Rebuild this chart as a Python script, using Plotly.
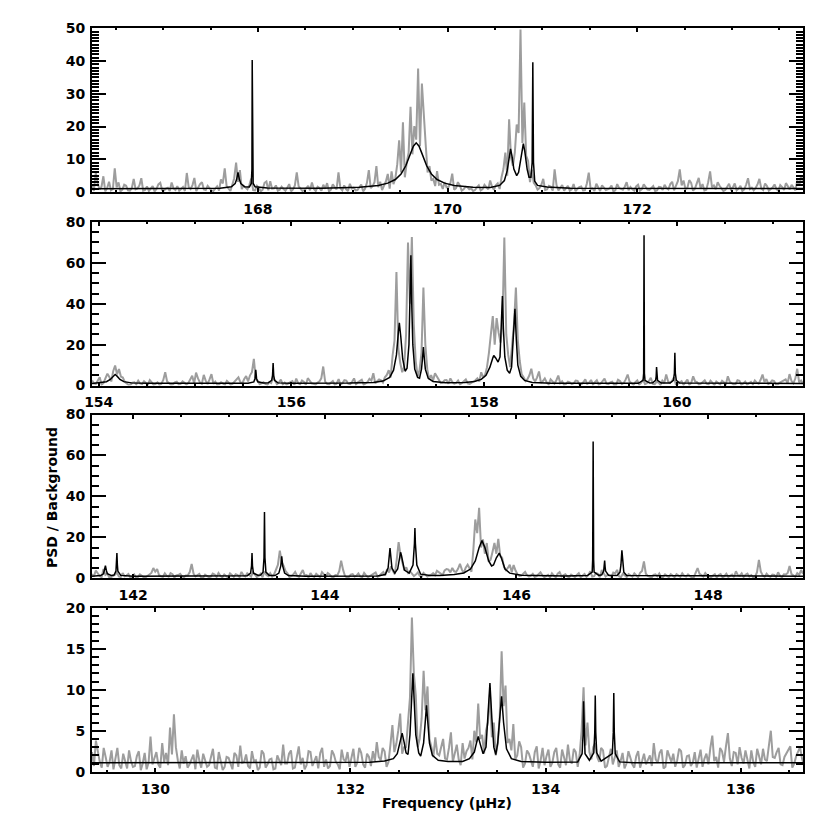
import plotly.graph_objects as go

BIN = 0.04  # spacing of each list below (µHz); *_mid lists sit half a bin to the right

# ---------------- panel 1 (top) ----------------
p1_xrange = [166.25, 173.75]
p1_yrange = [0, 50]
p1_start = 166.25
p1_psd = [
    2.1, 6.0, 0.8, 4.8, 1.2, 0.5, 7.2, 2.9, 0.7, 1.9, 0.4, 4.0, 1.1, 4.2, 0.6, 0.3, 1.8, 0.9, 2.8, 0.5, 1.3, 2.9, 0.6, 0.4, 1.5,  # 166.25
    5.8, 0.9, 4.3, 1.4, 3.0, 0.6, 1.2, 0.3, 1.7, 3.8, 7.2, 1.0, 2.2, 9.0, 6.7, 1.9, 0.8, 4.1, 0.5, 1.3, 0.7, 3.2, 3.3, 1.1, 0.4,  # 167.25
    1.6, 0.4, 2.4, 0.8, 6.0, 1.1, 0.6, 1.9, 2.9, 0.3, 1.2, 2.2, 2.7, 0.7, 1.5, 6.0, 0.5, 0.9, 2.5, 1.3, 0.6, 2.3, 1.0, 6.7, 1.8,  # 168.25
    7.9, 3.1, 1.8, 5.5, 6.3, 4.2, 15.8, 21.3, 9.0, 26.0, 20.1, 37.7, 33.1, 14.5, 7.9, 4.0, 6.4, 2.5, 3.0, 1.5, 5.6, 1.2, 2.0, 0.8, 1.5,  # 169.25
    1.1, 0.6, 2.0, 0.9, 1.4, 3.5, 0.7, 2.6, 4.5, 12.0, 22.2, 8.0, 20.6, 49.6, 27.3, 9.5, 6.8, 2.0, 1.2, 4.0, 0.8, 1.6, 6.9, 0.5, 2.1,  # 170.25
    1.3, 0.4, 2.4, 0.9, 1.7, 0.6, 5.9, 1.1, 2.5, 0.3, 1.4, 0.8, 2.0, 0.5, 1.2, 0.7, 3.0, 1.5, 0.4, 2.2, 0.9, 1.3, 0.6, 1.8, 0.5,  # 171.25
    1.5, 2.2, 0.8, 3.1, 1.9, 6.9, 3.5, 1.2, 2.8, 1.0, 4.3, 2.4, 0.7, 6.3, 2.0, 3.0, 1.1, 0.6, 2.5, 1.4, 0.5, 1.9, 0.8, 4.2, 1.3,  # 172.25
    1.2, 4.0, 0.6, 1.8, 0.9, 2.3, 0.4, 1.5, 2.7, 0.8, 1.3, 3.6, 4.8,  # 173.25
]
p1_psd_mid = [
    0.3, 2.5, 1.6, 0.2, 3.1, 0.9, 1.4, 0.2, 2.2, 0.5, 1.2, 0.8, 2.0, 0.4, 1.7, 0.9, 0.2, 2.3, 0.6, 1.0, 0.3, 1.1, 1.8, 0.9, 0.3,
    1.5, 2.1, 0.3, 2.4, 0.8, 1.9, 0.5, 1.1, 0.4, 2.6, 1.8, 0.3, 4.2, 3.1, 0.9, 1.3, 2.2, 0.6, 1.9, 0.2, 2.8, 0.5, 1.0, 2.0, 0.7,
    0.9, 1.3, 0.2, 2.0, 1.7, 0.3, 1.1, 0.5, 0.9, 1.6, 0.4, 1.0, 0.2, 2.3, 0.8, 1.2, 2.0, 0.3, 1.1, 0.5, 1.6, 0.2, 2.8, 1.2, 3.0,
    1.5, 0.6, 3.2, 1.0, 2.4, 8.5, 6.0, 4.5, 12.0, 11.5, 16.0, 14.0, 22.0, 6.0, 3.5, 1.8, 2.2, 0.9, 1.4, 2.6, 0.7, 3.0, 0.4, 1.6, 0.8,
    0.3, 1.4, 0.5, 2.2, 0.8, 1.6, 2.0, 0.9, 7.0, 5.0, 10.5, 12.0, 18.0, 15.0, 11.0, 3.0, 2.8, 0.7, 2.2, 0.6, 1.9, 0.4, 2.1, 1.3, 0.4,
    1.9, 0.8, 0.3, 1.5, 0.5, 2.6, 0.9, 0.3, 1.3, 2.0, 0.6, 1.1, 0.2, 2.4, 0.9, 1.6, 0.5, 0.8, 1.7, 0.4, 2.3, 0.7, 1.2, 0.3, 1.6,
    0.6, 1.2, 2.4, 0.5, 3.3, 2.0, 0.9, 3.6, 0.4, 2.7, 1.1, 0.5, 3.0, 1.4, 0.8, 1.9, 0.3, 1.5, 0.8, 2.6, 1.0, 0.3, 2.2, 0.9, 0.5,
    2.3, 1.1, 2.6, 0.4, 1.4, 0.9, 2.1, 0.6, 1.5, 2.2, 0.5, 2.0, 3.5,
]
p1_fit = [
    (166.25, 1.0), (167.60, 1.15), (167.72, 1.6), (167.76, 2.6), (167.775, 3.8), (167.79, 6.0),
    (167.805, 3.8), (167.82, 2.6), (167.86, 1.6), (167.91, 1.5), (167.93, 2.6), (167.937, 7.0),
    (167.94, 40.3), (167.943, 7.0), (167.95, 2.6), (167.97, 1.6), (168.10, 1.2), (168.67, 1.17),
    (169.07, 1.45), (169.27, 2.0), (169.37, 2.7), (169.45, 3.8), (169.51, 5.5), (169.56, 8.0),
    (169.61, 11.8), (169.64, 14.0), (169.67, 15.0), (169.70, 14.0), (169.73, 11.8), (169.78, 8.0),
    (169.83, 5.5), (169.89, 3.8), (169.97, 2.7), (170.07, 2.0), (170.27, 1.45), (170.45, 1.4),
    (170.55, 2.0), (170.60, 3.5), (170.63, 6.5), (170.65, 11.0), (170.665, 13.2), (170.68, 11.0),
    (170.70, 7.0), (170.73, 5.0), (170.75, 6.0), (170.77, 9.5), (170.79, 14.0), (170.80, 14.8),
    (170.815, 12.5), (170.84, 7.0), (170.86, 4.5), (170.88, 4.5), (170.893, 9.0), (170.90, 39.6),
    (170.907, 9.0), (170.92, 3.3), (170.95, 2.0), (171.05, 1.5), (171.30, 1.15), (173.75, 1.05),
]

# ---------------- panel 2 ----------------
p2_xrange = [153.93, 161.31]
p2_yrange = [0, 80]
p2_start = 153.93
p2_psd = [
    2.5, 0.8, 4.1, 1.3, 5.8, 2.0, 9.8, 8.1, 3.9, 1.0, 0.5, 1.6, 2.4, 0.7, 1.2, 2.6, 0.4, 1.5, 0.9, 6.5, 1.1, 0.6, 1.9, 0.8, 1.3,  # 153.93
    1.2, 4.8, 6.3, 1.5, 5.2, 0.7, 5.6, 1.9, 0.6, 1.2, 2.3, 0.4, 1.8, 4.0, 1.0, 4.6, 5.0, 13.0, 2.4, 1.1, 0.8, 1.7, 4.2, 0.6, 2.9,  # 154.93
    1.4, 0.9, 2.2, 3.4, 0.6, 1.8, 3.6, 1.1, 0.5, 2.0, 9.3, 0.8, 1.5, 0.4, 3.1, 1.2, 2.4, 0.7, 3.5, 1.6, 2.8, 0.9, 3.3, 6.0, 2.1,  # 155.93
    2.6, 4.0, 7.5, 14.7, 55.5, 11.0, 9.2, 70.0, 72.7, 12.0, 7.6, 48.0, 8.0, 5.1, 6.0, 3.2, 1.4, 2.7, 3.5, 0.9, 2.4, 1.3, 3.0, 0.8, 1.9,  # 156.93
    3.5, 6.5, 5.2, 16.0, 34.0, 33.0, 21.0, 72.4, 15.0, 20.0, 47.9, 12.0, 4.0, 3.1, 8.2, 2.0, 6.9, 2.2, 1.5, 3.0, 1.0, 4.9, 2.1, 0.8, 1.6,  # 157.93
    1.1, 2.3, 0.6, 3.0, 1.4, 0.5, 2.6, 1.0, 3.4, 0.7, 1.9, 0.4, 2.2, 1.3, 5.4, 0.9, 1.6, 0.5, 2.9, 1.2, 3.8, 0.6, 1.5, 2.4, 5.4,  # 158.93
    1.3, 4.0, 0.8, 2.1, 1.5, 0.4, 4.5, 1.7, 0.9, 2.6, 0.6, 1.2, 2.0, 0.5, 1.4, 4.5, 1.1, 0.7, 2.3, 1.0, 0.5, 1.8, 2.5, 0.9, 5.4,  # 159.93
    3.2, 1.4, 2.2, 0.6, 1.9, 3.0, 5.6, 1.1, 8.2, 2.4,  # 160.93
]
p2_psd_mid = [
    1.1, 2.3, 0.4, 3.6, 4.2, 7.0, 5.5, 4.4, 1.8, 0.3, 1.4, 0.6, 1.0, 2.1, 0.4, 1.3, 0.8, 0.3, 2.7, 1.9, 0.4, 1.5, 0.6, 2.0, 0.5,
    2.9, 1.0, 3.5, 0.8, 2.4, 3.0, 0.9, 0.4, 1.6, 0.5, 1.1, 0.9, 2.6, 1.7, 3.2, 2.0, 6.5, 3.1, 0.7, 1.6, 0.4, 1.2, 2.0, 1.5, 0.6,
    0.5, 1.7, 0.3, 1.2, 2.5, 0.4, 2.0, 0.8, 1.4, 3.5, 1.9, 0.6, 2.2, 1.0, 0.5, 2.6, 0.9, 1.8, 0.6, 2.2, 0.4, 1.7, 2.4, 1.1, 3.0,
    1.5, 5.2, 4.0, 22.0, 18.0, 6.5, 25.0, 40.0, 30.0, 4.5, 16.0, 20.0, 3.0, 2.4, 4.4, 1.2, 2.6, 0.9, 1.7, 1.3, 0.6, 2.2, 1.0, 1.4, 2.6,
    2.0, 4.0, 9.0, 24.0, 20.0, 26.0, 30.0, 25.0, 9.0, 30.0, 22.0, 5.5, 2.2, 5.0, 3.4, 4.0, 1.3, 3.5, 0.6, 1.8, 2.6, 1.2, 0.4, 1.9, 0.7,
    2.4, 0.5, 1.6, 0.8, 2.7, 1.6, 0.4, 2.2, 0.9, 1.5, 0.3, 2.8, 0.7, 3.0, 1.9, 0.4, 2.5, 1.3, 0.7, 2.1, 0.9, 1.8, 0.3, 1.2, 2.0,
    2.2, 0.6, 1.7, 0.4, 2.9, 1.3, 2.0, 0.5, 1.6, 0.9, 2.4, 0.3, 1.1, 2.3, 0.7, 1.8, 0.5, 2.6, 0.4, 1.9, 1.3, 0.6, 1.4, 2.8, 1.7,
    0.8, 2.5, 0.5, 1.4, 2.6, 1.1, 2.3, 3.4, 1.6, 0.9,
]
p2_fit = [
    (153.93, 1.0), (154.00, 1.3), (154.08, 1.9), (154.12, 3.0), (154.15, 4.6), (154.17, 5.4),
    (154.19, 4.6), (154.22, 3.0), (154.26, 1.9), (154.34, 1.3), (154.50, 1.1), (155.55, 1.1),
    (155.61, 1.8), (155.622, 3.5), (155.63, 7.7), (155.638, 3.5), (155.65, 1.8), (155.71, 1.2),
    (155.76, 1.3), (155.795, 2.5), (155.804, 5.0), (155.81, 11.0), (155.816, 5.0), (155.825, 2.5),
    (155.86, 1.3), (156.00, 1.1), (156.60, 1.2), (156.85, 1.5), (156.95, 2.2), (157.02, 4.0),
    (157.06, 7.5), (157.09, 15.0), (157.11, 26.0), (157.12, 30.7), (157.135, 24.0), (157.155, 13.0),
    (157.18, 7.0), (157.20, 8.5), (157.22, 20.0), (157.23, 38.0), (157.24, 63.7), (157.25, 38.0),
    (157.26, 20.0), (157.28, 8.0), (157.31, 4.0), (157.33, 3.6), (157.35, 8.0), (157.36, 13.0),
    (157.37, 18.8), (157.38, 13.0), (157.39, 8.0), (157.42, 3.5), (157.47, 2.0), (157.60, 1.4),
    (157.80, 1.5), (157.90, 2.0), (157.97, 3.0), (158.02, 5.0), (158.06, 9.0), (158.09, 13.5),
    (158.10, 14.7), (158.12, 13.5), (158.145, 11.5), (158.165, 14.0), (158.18, 28.0), (158.19, 43.8),
    (158.20, 28.0), (158.215, 14.0), (158.24, 7.5), (158.265, 6.0), (158.285, 9.0), (158.30, 20.0),
    (158.32, 37.6), (158.335, 22.0), (158.35, 10.0), (158.38, 4.5), (158.42, 2.5), (158.50, 1.5),
    (158.70, 1.1), (159.60, 1.1), (159.65, 2.5), (159.656, 6.0), (159.66, 73.5), (159.664, 6.0),
    (159.67, 2.5), (159.72, 1.2), (159.75, 1.3), (159.78, 2.5), (159.786, 4.5), (159.79, 9.0),
    (159.794, 4.5), (159.80, 2.5), (159.84, 1.2), (159.93, 1.2), (159.965, 2.5), (159.975, 6.0),
    (159.98, 16.0), (159.985, 6.0), (159.995, 2.5), (160.03, 1.2), (161.31, 1.0),
]

# ---------------- panel 3 ----------------
p3_xrange = [141.57, 148.99]
p3_yrange = [0, 80]
p3_start = 141.57
p3_psd = [
    2.0, 3.8, 1.1, 4.5, 2.3, 0.6, 1.7, 0.9, 2.5, 1.3, 0.4, 1.9, 0.7, 1.2, 0.5, 1.6, 5.0, 4.5, 1.0, 2.4, 0.8, 2.0, 1.4, 2.2, 0.6,  # 141.57
    1.5, 7.0, 0.9, 2.1, 0.4, 1.3, 0.8, 1.8, 2.6, 0.5, 1.1, 2.4, 0.7, 1.6, 3.1, 0.9, 1.4, 3.0, 0.6, 2.2, 3.3, 1.0, 0.8, 4.2, 13.5,  # 142.57
    6.0, 2.4, 1.0, 3.1, 0.7, 4.0, 1.5, 2.5, 0.6, 1.2, 3.0, 0.8, 1.9, 0.5, 1.4, 8.6, 1.1, 0.6, 2.0, 1.3, 0.9, 2.6, 0.5, 1.7, 2.8,  # 143.57
    1.2, 3.0, 4.5, 5.8, 2.0, 17.7, 7.5, 5.3, 3.4, 1.1, 2.8, 0.7, 1.9, 1.3, 2.5, 3.6, 2.2, 3.8, 4.2, 5.0, 3.1, 7.0, 2.6, 6.6, 3.2,  # 144.57
    28.7, 34.4, 19.0, 17.2, 9.0, 17.2, 19.2, 10.0, 4.0, 6.6, 6.5, 2.0, 1.3, 3.1, 0.8, 2.2, 1.0, 2.9, 0.6, 1.7, 2.4, 0.5, 3.0, 1.4, 0.9,  # 145.57
    1.8, 0.6, 2.5, 1.2, 0.7, 3.4, 1.0, 2.2, 4.0, 0.9, 1.5, 2.8, 4.1, 0.5, 1.3, 2.0, 0.8, 1.6, 2.7, 8.2, 1.1, 0.4, 1.9, 2.3, 0.7,  # 146.57
    1.2, 2.0, 0.6, 1.5, 2.4, 0.8, 1.1, 0.5, 5.0, 1.7, 2.6, 0.9, 1.3, 0.4, 2.1, 1.0, 0.7, 1.8, 3.4, 1.2, 0.6, 2.3, 1.5, 0.8, 9.0,  # 147.57
    1.4, 2.2, 0.7, 1.6, 2.9, 0.5, 1.8, 6.0, 1.1, 2.5, 4.0,  # 148.57
]
p3_psd_mid = [
    0.9, 2.4, 0.5, 1.6, 0.4, 1.2, 2.8, 0.6, 1.0, 2.1, 0.8, 0.3, 1.9, 0.5, 1.1, 2.6, 3.2, 1.5, 0.7, 1.2, 2.5, 0.4, 1.6, 0.9, 1.4,
    3.0, 2.2, 1.4, 0.3, 1.8, 0.5, 2.3, 0.7, 1.2, 1.9, 0.4, 1.3, 2.0, 0.6, 1.5, 2.4, 0.8, 1.7, 1.1, 0.5, 1.6, 2.5, 1.9, 6.5, 8.0,
    3.5, 0.6, 1.8, 1.2, 2.6, 1.3, 0.4, 1.1, 2.2, 0.5, 1.7, 2.6, 0.7, 1.6, 3.5, 4.2, 0.4, 1.8, 0.9, 2.4, 0.5, 1.4, 1.1, 2.3, 0.8,
    2.2, 1.5, 2.8, 3.6, 9.0, 11.0, 4.0, 2.6, 2.0, 1.8, 1.2, 2.6, 0.8, 1.7, 1.5, 2.9, 1.6, 4.5, 2.9, 3.4, 4.6, 4.2, 5.2, 5.0, 14.0,
    22.0, 15.0, 12.0, 8.0, 13.0, 12.0, 11.0, 5.5, 5.0, 3.0, 3.8, 1.1, 2.2, 1.5, 1.3, 0.6, 2.0, 1.4, 1.1, 0.4, 1.3, 2.2, 0.9, 2.0, 0.5,
    1.2, 1.6, 0.5, 2.1, 1.5, 0.8, 2.6, 0.5, 2.3, 1.6, 0.7, 2.4, 1.0, 2.2, 0.6, 1.3, 2.4, 0.5, 3.6, 2.2, 0.6, 1.6, 1.0, 0.4, 1.9,
    0.6, 1.4, 2.0, 0.7, 1.2, 1.9, 0.4, 2.4, 2.2, 0.9, 1.4, 0.6, 2.0, 1.6, 0.5, 2.2, 1.3, 0.6, 1.5, 2.4, 1.7, 0.8, 0.5, 3.0, 3.2,
    0.7, 1.1, 1.8, 0.6, 1.2, 1.9, 2.6, 2.0, 0.7, 1.6, 2.2,
]
p3_fit = [
    (141.57, 1.0), (141.66, 1.3), (141.69, 2.2), (141.70, 3.8), (141.71, 6.1), (141.72, 3.8),
    (141.73, 2.2), (141.77, 1.4), (141.80, 1.6), (141.82, 3.5), (141.825, 6.5), (141.83, 12.3),
    (141.835, 6.5), (141.84, 3.5), (141.87, 1.4), (142.00, 1.0), (143.19, 1.2), (143.225, 2.5),
    (143.235, 6.0), (143.24, 12.3), (143.245, 6.0), (143.255, 2.5), (143.30, 1.5), (143.33, 1.6),
    (143.355, 3.0), (143.365, 10.0), (143.37, 32.4), (143.375, 10.0), (143.385, 3.0), (143.42, 1.4),
    (143.48, 1.3), (143.52, 2.5), (143.54, 6.0), (143.55, 10.7), (143.56, 6.0), (143.58, 2.5),
    (143.62, 1.3), (143.80, 1.0), (144.55, 1.1), (144.63, 1.8), (144.66, 5.0), (144.68, 14.8),
    (144.70, 5.0), (144.73, 2.5), (144.76, 4.5), (144.78, 11.0), (144.79, 12.7), (144.80, 11.0),
    (144.83, 4.0), (144.88, 2.5), (144.92, 6.5), (144.935, 17.0), (144.94, 24.6), (144.945, 17.0),
    (144.96, 6.5), (145.00, 2.0), (145.10, 1.3), (145.20, 1.3), (145.35, 1.8), (145.45, 2.6),
    (145.52, 4.5), (145.57, 8.5), (145.61, 15.0), (145.64, 18.4), (145.67, 15.0), (145.71, 8.5),
    (145.74, 6.0), (145.76, 6.5), (145.79, 10.0), (145.82, 12.3), (145.845, 9.5), (145.88, 4.5),
    (145.93, 2.5), (146.05, 1.5), (146.50, 1.1), (146.74, 1.3), (146.79, 3.0), (146.795, 9.0),
    (146.80, 66.8), (146.805, 9.0), (146.81, 3.0), (146.86, 1.4), (146.89, 1.7), (146.91, 3.5),
    (146.915, 5.5), (146.92, 8.7), (146.925, 5.5), (146.93, 3.5), (146.96, 1.5), (147.05, 1.4),
    (147.08, 3.0), (147.09, 6.5), (147.10, 13.6), (147.11, 6.5), (147.12, 3.0), (147.15, 1.4),
    (148.99, 1.0),
]

# ---------------- panel 4 (bottom) ----------------
p4_xrange = [129.35, 136.64]
p4_yrange = [0, 20]
p4_start = 129.35
p4_psd = [
    2.4, 3.8, 1.2, 2.9, 0.6, 2.6, 1.5, 0.8, 2.2, 0.4, 1.3, 0.7, 2.5, 1.0, 0.3, 4.3, 1.6, 0.9, 3.5, 2.3, 5.4, 7.0, 1.4, 2.6, 1.9,  # 129.35
    0.9, 2.1, 2.7, 0.5, 1.3, 0.8, 2.8, 0.4, 1.1, 0.6, 1.7, 0.3, 2.0, 3.2, 1.2, 0.7, 2.5, 1.4, 0.5, 2.2, 0.9, 1.6, 0.4, 1.3, 3.3,  # 130.35
    1.0, 2.6, 0.5, 3.1, 1.7, 0.8, 2.4, 1.2, 0.4, 2.9, 1.5, 0.7, 2.1, 0.9, 2.7, 1.3, 0.6, 2.8, 1.1, 2.3, 0.5, 1.8, 2.5, 3.6, 1.4,  # 131.35
    2.5, 1.2, 5.7, 3.4, 7.1, 3.0, 6.0, 18.8, 9.3, 4.0, 12.3, 10.4, 3.0, 4.2, 2.0, 4.0, 1.5, 4.8, 2.5, 1.5, 3.5, 2.5, 3.8, 5.0, 8.3,  # 132.35
    4.5, 5.0, 9.5, 6.0, 3.5, 14.7, 10.5, 4.0, 5.8, 2.0, 3.0, 1.0, 2.2, 0.6, 3.1, 1.4, 0.8, 2.7, 1.1, 2.9, 0.5, 1.6, 3.3, 1.0, 2.4,  # 133.35
    2.1, 10.3, 6.0, 1.5, 3.5, 1.2, 2.6, 0.7, 2.8, 1.9, 0.6, 2.3, 1.0, 1.7, 0.5, 2.5, 1.3, 0.9, 2.0, 3.5, 1.1, 2.7, 0.6, 1.8, 2.2,  # 134.35
    1.4, 2.5, 0.8, 2.0, 1.1, 0.5, 2.7, 1.6, 0.9, 4.4, 1.8, 2.9, 1.2, 4.7, 0.7, 2.3, 3.0, 1.0, 1.5, 2.6, 0.6, 1.9, 2.8, 1.3, 5.0,  # 135.35
    1.7, 2.9, 0.8, 2.2, 3.1, 1.0, 2.5, 1.6,  # 136.35
]
p4_psd_mid = [
    0.7, 2.2, 0.5, 1.8, 1.2, 0.3, 2.9, 0.4, 1.3, 2.6, 0.6, 1.9, 0.2, 2.3, 1.1, 0.9, 2.4, 0.5, 1.2, 0.8, 2.1, 3.0, 0.4, 1.0, 0.5,
    1.6, 0.3, 1.4, 2.2, 0.6, 1.9, 0.5, 2.4, 0.2, 1.8, 0.9, 2.3, 0.6, 1.1, 2.1, 0.4, 1.3, 0.2, 2.6, 0.5, 1.5, 0.3, 2.0, 0.8, 1.0,
    2.2, 0.4, 1.6, 0.9, 0.3, 2.5, 0.7, 1.9, 2.3, 0.6, 0.4, 2.6, 1.2, 0.3, 1.5, 2.4, 1.6, 0.6, 2.9, 0.9, 2.2, 0.7, 1.3, 1.8, 2.9,
    0.6, 3.3, 2.4, 5.0, 2.2, 3.0, 9.0, 12.0, 3.0, 6.5, 7.5, 4.0, 1.8, 2.2, 3.2, 1.6, 2.9, 1.2, 3.3, 0.8, 1.6, 2.9, 1.5, 3.6, 4.0,
    2.2, 6.0, 4.2, 2.0, 6.5, 8.0, 3.5, 2.6, 1.5, 3.7, 0.5, 2.6, 1.3, 2.4, 0.4, 2.9, 1.9, 0.6, 2.4, 0.9, 2.7, 0.8, 1.4, 2.8, 0.6,
    5.0, 3.2, 2.4, 3.0, 1.8, 2.9, 0.5, 2.0, 0.9, 2.6, 1.3, 0.4, 2.5, 0.9, 1.9, 0.5, 2.2, 1.4, 0.7, 1.5, 2.3, 0.4, 2.6, 1.2, 0.6,
    2.8, 0.5, 1.9, 0.7, 2.4, 1.8, 0.6, 2.2, 2.9, 1.3, 0.5, 2.5, 3.1, 1.6, 2.4, 0.9, 1.7, 2.6, 0.4, 1.2, 2.8, 0.9, 1.5, 3.2, 1.8,
    2.4, 0.9, 1.8, 2.6, 0.5, 1.9, 3.0, 0.8,
]
p4_fit = [
    (129.35, 1.1), (132.20, 1.15), (132.35, 1.3), (132.44, 1.6), (132.48, 2.2), (132.51, 3.6),
    (132.53, 4.7), (132.55, 3.6), (132.57, 2.3), (132.59, 2.1), (132.61, 4.5), (132.63, 9.5),
    (132.64, 12.0), (132.65, 9.5), (132.67, 4.5), (132.70, 2.3), (132.72, 1.9), (132.75, 3.5),
    (132.77, 6.5), (132.78, 8.1), (132.79, 6.5), (132.81, 3.5), (132.84, 2.0), (132.90, 1.4),
    (133.00, 1.25), (133.15, 1.25), (133.22, 1.6), (133.27, 2.4), (133.29, 3.4), (133.31, 4.3),
    (133.33, 3.4), (133.36, 2.2), (133.39, 3.0), (133.41, 6.5), (133.43, 10.8), (133.45, 6.5),
    (133.47, 3.0), (133.49, 2.1), (133.51, 3.5), (133.53, 6.5), (133.55, 9.2), (133.57, 6.0),
    (133.60, 2.8), (133.65, 1.6), (133.75, 1.25), (134.00, 1.15), (134.33, 1.2), (134.375, 2.2),
    (134.385, 4.5), (134.39, 8.6), (134.395, 4.5), (134.405, 2.2), (134.45, 1.4), (134.495, 2.3),
    (134.505, 4.8), (134.51, 9.3), (134.515, 4.8), (134.525, 2.3), (134.57, 1.3), (134.685, 2.2),
    (134.695, 4.8), (134.70, 9.6), (134.705, 4.8), (134.715, 2.2), (134.76, 1.2), (134.90, 1.1),
    (136.64, 1.1),
]

panels = [
    dict(xr=p1_xrange, yr=p1_yrange, dy=10, my=1, start=p1_start, psd=p1_psd, mid=p1_psd_mid, fit=p1_fit, dom=[0.7687, 0.9659]),
    dict(xr=p2_xrange, yr=p2_yrange, dy=20, my=5, start=p2_start, psd=p2_psd, mid=p2_psd_mid, fit=p2_fit, dom=[0.5355, 0.7325]),
    dict(xr=p3_xrange, yr=p3_yrange, dy=20, my=5, start=p3_start, psd=p3_psd, mid=p3_psd_mid, fit=p3_fit, dom=[0.3033, 0.5006]),
    dict(xr=p4_xrange, yr=p4_yrange, dy=5, my=1, start=p4_start, psd=p4_psd, mid=p4_psd_mid, fit=p4_fit, dom=[0.0702, 0.2678]),
]

tick_font = dict(family='DejaVu Sans', size=14, color='black', weight='bold')

fig = go.Figure()
for i, p in enumerate(panels, start=1):
    sfx = '' if i == 1 else str(i)
    # interleave the on-bin and half-bin readings of the spectrum
    freq, psd = [], []
    for k, v in enumerate(p['psd']):
        freq.append(p['start'] + BIN * k)
        psd.append(v)
        if k < len(p['mid']):
            freq.append(p['start'] + BIN * k + BIN / 2)
            psd.append(p['mid'][k])
    fig.add_trace(go.Scatter(
        x=freq, y=psd, mode='lines',
        line=dict(color='#9d9d9d', width=2),
        xaxis='x' + sfx, yaxis='y' + sfx, showlegend=False, hoverinfo='skip'
    ))
    fig.add_trace(go.Scatter(
        x=[f for f, _ in p['fit']], y=[v for _, v in p['fit']], mode='lines',
        line=dict(color='black', width=1.5),
        xaxis='x' + sfx, yaxis='y' + sfx, showlegend=False, hoverinfo='skip'
    ))
    fig.layout['xaxis' + sfx] = dict(
        domain=[92 / 830, 803 / 830], range=p['xr'], anchor='y' + sfx, automargin=False,
        tick0=0, dtick=2, ticks='inside', ticklen=4, tickwidth=2, tickcolor='black',
        minor=dict(dtick=0.5, ticks='inside', ticklen=2, tickwidth=1.5, tickcolor='black'),
        showline=True, linewidth=2, linecolor='black', mirror='allticks',
        showgrid=False, zeroline=False, tickfont=tick_font, ticklabelstandoff=3,
    )
    fig.layout['yaxis' + sfx] = dict(
        domain=p['dom'], range=p['yr'], anchor='x' + sfx, automargin=False,
        tick0=0, dtick=p['dy'], ticks='inside', ticklen=14, tickwidth=2, tickcolor='black',
        minor=dict(dtick=p['my'], ticks='inside', ticklen=7, tickwidth=1.5, tickcolor='black'),
        showline=True, linewidth=2, linecolor='black', mirror='allticks',
        showgrid=False, zeroline=False, tickfont=tick_font, ticklabelstandoff=2,
    )

fig.add_annotation(
    text='PSD / Background', xref='paper', yref='paper', x=52 / 830, y=1 - 498 / 830,
    xanchor='center', yanchor='middle', textangle=-90, showarrow=False, font=tick_font
)
fig.add_annotation(
    text='Frequency (μHz)', xref='paper', yref='paper', x=447 / 830, y=1 - 803 / 830,
    xanchor='center', yanchor='middle', showarrow=False, font=tick_font
)

fig.update_layout(
    width=830, height=830,
    margin=dict(l=0, r=0, t=0, b=0),
    paper_bgcolor='white', plot_bgcolor='white',
)

fig.write_html('out.html', config={'displayModeBar': False},
               post_script="document.body.style.margin='0px';")
